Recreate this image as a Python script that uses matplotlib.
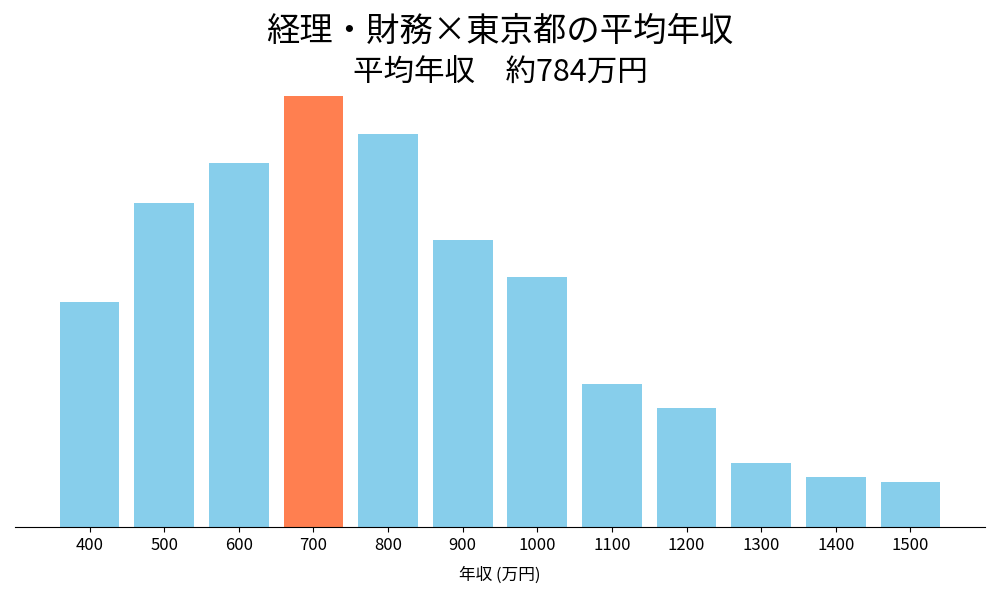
import matplotlib
matplotlib.use("Agg")
import matplotlib.pyplot as plt

plt.rcParams['font.family'] = ['Noto Sans CJK JP', 'DejaVu Sans']

categories = ['400', '500', '600', '700', '800', '900', '1000', '1100', '1200', '1300', '1400', '1500']
values = [225, 324, 364, 432, 393, 287, 250, 143, 119, 64, 50, 45]
highlight = '700'
title = '経理・財務×東京都の平均年収'
subtitle = '平均年収　約784万円'
xlabel = '年収 (万円)'

colors = ['#FF7F50' if c == highlight else '#87CEEB' for c in categories]

fig = plt.figure(figsize=(10, 6), dpi=100)
ax = fig.add_axes([0.015, 0.1217, 0.97, 0.755])
x = list(range(len(categories)))
ax.bar(x, values, width=0.8, color=colors)
ax.set_xticks(x)
ax.set_xticklabels(categories, fontsize=12)
ax.set_xlim(-1, len(categories))
ax.set_ylim(0, max(values) * 1.05)
ax.set_yticks([])
for s in ['top', 'right', 'left']:
    ax.spines[s].set_visible(False)
ax.set_xlabel(xlabel, fontsize=12, labelpad=9)

fig.text(0.5, 0.948, title, ha='center', va='center', fontsize=24)
fig.text(0.5, 0.878, subtitle, ha='center', va='center', fontsize=22)

fig.savefig('out.png', dpi=100)
